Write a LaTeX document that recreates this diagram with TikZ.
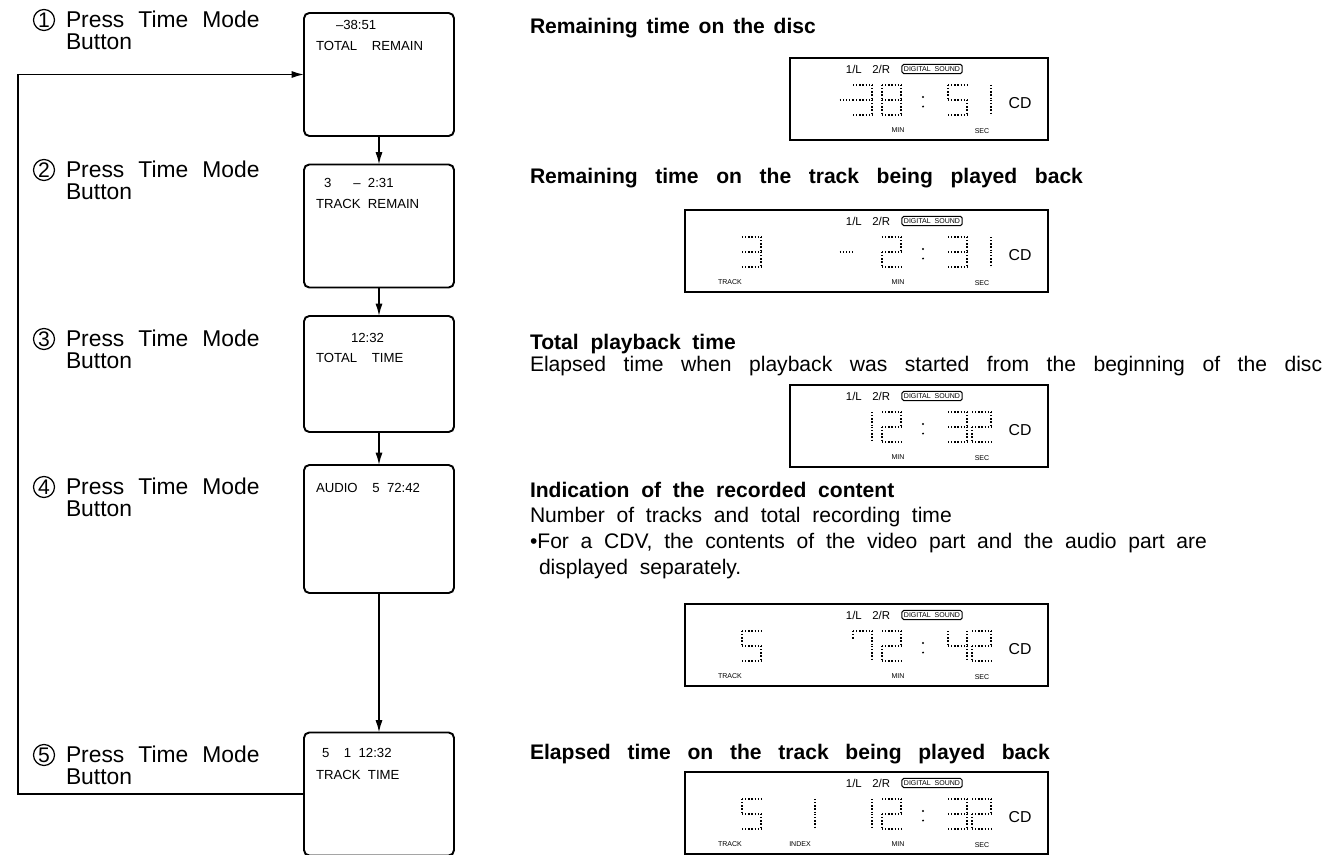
\documentclass[tikz,border=0pt]{standalone}
\usepackage{fontspec}
\setmainfont{Liberation Sans}[WordSpace={2.0}]
\usetikzlibrary{arrows.meta}

% dotted seven segment digits, segment lists in a unit box (y down)
\def\dOne{1/0/1/.5, 1/.5/1/1}
\def\dTwo{0/0/1/0, 1/0/1/.5, 0/.5/1/.5, 0/.5/0/1, 0/1/1/1}
\def\dThree{0/0/1/0, 1/0/1/.5, 0/.5/1/.5, 1/.5/1/1, 0/1/1/1}
\def\dFour{0/0/0/.5, 0/.5/1/.5, 1/0/1/.5, 1/.5/1/1}
\def\dFive{0/0/1/0, 0/0/0/.5, 0/.5/1/.5, 1/.5/1/1, 0/1/1/1}
\def\dSeven{0/0/1/0, 0/0/0/.3, 1/0/1/.5, 1/.5/1/1}
\def\dEight{0/0/1/0, 1/0/1/.5, 1/.5/1/1, 0/1/1/1, 0/.5/0/1, 0/0/0/.5, 0/.5/1/.5}
\def\dMinus{.3/.5/1/.5}

\def\dw{19}\def\dh{30}
\newcommand\lcd[2]{% left x, segment list (top at y=27)
  \foreach \ax/\ay/\bx/\by in #2
    \draw[seg] ({#1+\ax*\dw},{27+\ay*\dh}) -- ({#1+\bx*\dw},{27+\by*\dh});}
\newcommand\lcdcolon{%
  \fill (-125,{27+.4*\dh}) circle (1.1); \fill (-125,{27+.72*\dh}) circle (1.1);}
\newcommand\wsp[1]{\spaceskip=#1\relax}

% frame and fixed labels of a display panel, right edge at x=0
\newcommand\panelbase[1]{% left x
  \draw[panel] (#1,0) rectangle (0,82);
  \node[lcdtext] at (-180,11) {1/L\hspace{6pt}2/R};
  \node[soundbox] at (-116,11) {DIGITAL SOUND};
  \node[cdtext] at (-28,45) {CD};
  \node[tiny] at (-150,72) {MIN};
  \node[tiny] at (-66,73) {SEC};
  \lcdcolon}

\tikzset{
  every node/.style={inner sep=0pt, outer sep=0pt},
  step label/.style={anchor=north west, align=left, font=\fontsize{13}{12.5}\selectfont},
  num/.style={draw, circle, line width=0.7pt, minimum size=0.42cm, font=\fontsize{12}{12}\selectfont},
  screen/.style={draw, line width=1.1pt, rounded corners=3pt, minimum width=3cm, minimum height=2.46cm},
  scrtext/.style={anchor=base west, font=\fontsize{7.5}{7.5}\selectfont},
  head/.style={anchor=base west, font=\fontsize{12}{12}\bfseries\selectfont},
  body/.style={anchor=base west, font=\fontsize{12}{12}\selectfont},
  flow/.style={line width=0.9pt, -{Latex[length=7pt,width=4pt]}},
  panel/.style={line width=0.9pt},
  seg/.style={line width=1.1pt, dash pattern=on 0.7pt off 1.1pt},
  lcdtext/.style={font=\fontsize{6.5}{6.5}\selectfont},
  soundbox/.style={draw, line width=0.6pt, inner sep=1.2pt, rounded corners=1pt, font=\fontsize{4}{4}\selectfont},
  cdtext/.style={font=\fontsize{9}{9}\selectfont},
  tiny/.style={font=\fontsize{4}{4}\selectfont},
}

\begin{document}
\begin{tikzpicture}[x=0.02cm, y=-0.02cm]
  \clip (0,0) rectangle (1332,855);

  % left column: steps
  \foreach \n/\y in {1/20, 2/170, 3/339, 4/487, 5/755} {
    \node[num] (n\n) at (44,\y) {\n};
    \node[step label] (t\n) at (66,{\y-9}) {\wsp{8pt}Press Time Mode\\Button};
  }

  % screens
  \node[screen] (s1) at (379,74.5) {};
  \node[screen] (s2) at (379,226) {};
  \node[screen, minimum height=2.32cm] (s3) at (379,374) {};
  \node[screen, minimum height=2.56cm] (s4) at (379,529) {};
  \node[screen] (s5) at (379,794) {};

  \node[scrtext] at (336,30) {--38:51};
  \node[scrtext] at (316,51) {TOTAL\ \ REMAIN};
  \node[scrtext] at (324,187) {3\ \ \ -- 2:31};
  \node[scrtext] at (316,208) {TRACK REMAIN};
  \node[scrtext] at (351,342) {12:32};
  \node[scrtext] at (316,362) {TOTAL\ \ TIME};
  \node[scrtext] at (316,492) {AUDIO\ \ 5 72:42};
  \node[scrtext] at (322,757) {5\ \ 1 12:32};
  \node[scrtext] at (316,779) {TRACK TIME};

  \draw[flow] (s1.south) -- (s2.north);
  \draw[flow] (s2.south) -- (s3.north);
  \draw[flow] (s3.south) -- (s4.north);
  \draw[flow] (s4.south) -- (s5.north);
  \coordinate (loop) at (18,0);
  \draw[flow] (s5.west) -| (loop |- s1.west) -- (s1.west);

  % right column: texts
  \node[head] (h1) at (530,34) {\wsp{5pt}Remaining time on the disc};
  \node[head] (h2) at (530,183) {\wsp{10pt}Remaining time on the track being played back};
  \node[head] (h3) at (530,349) {Total playback time};
  \node[body] (b3) at (530,371) {\wsp{10pt}Elapsed time when playback was started from the beginning of the disc};
  \node[head] (h4) at (530,497) {Indication of the recorded content};
  \node[body] (b4) at (530,522) {Number of tracks and total recording time};
  \node[body] (b5) at (530,548) {\textbullet For a CDV, the contents of the video part and the audio part are};
  \node[body] (b6) at (539,574) {displayed separately.};
  \node[head] (h5) at (530,759) {\wsp{9.5pt}Elapsed time on the track being played back};

  % display 1
  \begin{scope}[shift={(1048,58)}]
    \panelbase{-258}
    \lcd{-214}{\dMinus}
    \lcd{-195}{\dThree}
    \lcd{-166}{\dEight}
    \lcd{-100}{\dFive}
    \lcd{-76}{\dOne}
  \end{scope}

  % display 2
  \begin{scope}[shift={(1048,210)}]
    \panelbase{-363}
    \node[tiny] at (-318,72) {TRACK};
    \lcd{-306}{\dThree}
    \lcd{-214}{\dMinus}
    \lcd{-166}{\dTwo}
    \lcd{-100}{\dThree}
    \lcd{-76}{\dOne}
  \end{scope}

  % display 3
  \begin{scope}[shift={(1048,385)}]
    \panelbase{-258}
    \lcd{-195}{\dOne}
    \lcd{-166}{\dTwo}
    \lcd{-100}{\dThree}
    \lcd{-76}{\dTwo}
  \end{scope}

  % display 4
  \begin{scope}[shift={(1048,604)}]
    \panelbase{-363}
    \node[tiny] at (-318,72) {TRACK};
    \lcd{-306}{\dFive}
    \lcd{-195}{\dSeven}
    \lcd{-166}{\dTwo}
    \lcd{-100}{\dFour}
    \lcd{-76}{\dTwo}
  \end{scope}

  % display 5
  \begin{scope}[shift={(1048,772)}]
    \panelbase{-363}
    \node[tiny] at (-318,72) {TRACK};
    \node[tiny] at (-248,72) {INDEX};
    \lcd{-306}{\dFive}
    \lcd{-252}{\dOne}
    \lcd{-195}{\dOne}
    \lcd{-166}{\dTwo}
    \lcd{-100}{\dThree}
    \lcd{-76}{\dTwo}
  \end{scope}
\end{tikzpicture}
\end{document}
